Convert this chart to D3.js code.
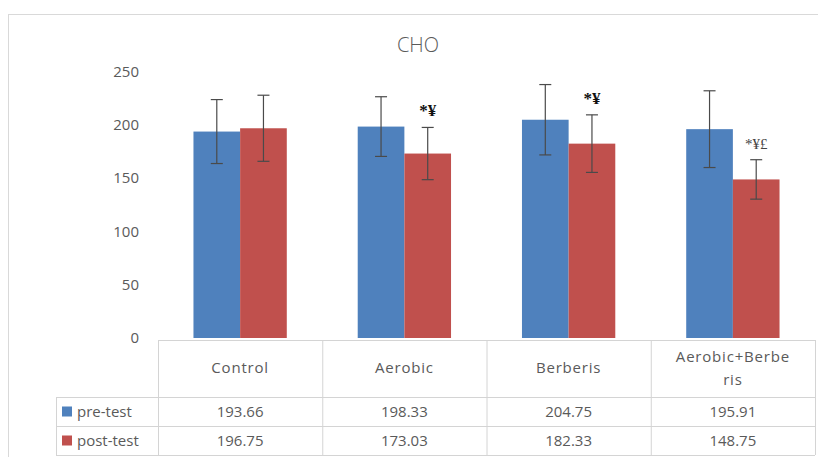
<!DOCTYPE html>
<html>
<head>
<meta charset="utf-8">
<script src="https://cdn.jsdelivr.net/npm/d3@7"></script>
<style>
  body { margin: 0; background: #fff; }
  svg { display: block; font-family: 'Open Sans', sans-serif; }
</style>
</head>
<body>
<svg id="chart" width="818" height="457"></svg>
<script>
// data
const categories = ['Control', 'Aerobic', 'Berberis', 'Aerobic+Berberis'];
const headerLines = [['Control'], ['Aerobic'], ['Berberis'], ['Aerobic+Berbe', 'ris']];
const series = ['pre-test', 'post-test'];
const preTest = [193.66, 198.33, 204.75, 195.91];
const postTest = [196.75, 173.03, 182.33, 148.75];
const preSD = [30, 28, 33, 36];
const postSD = [31, 24.5, 27, 18.5];
const marks = ['', '*¥', '*¥', '*¥£'];
const yTicks = [0, 50, 100, 150, 200, 250];

const colors = { 'pre-test': '#4f81bd', 'post-test': '#c0504d' };
const gridColor = '#d4d4d4';
const textColor = '#5a5a5a';

const svg = d3.select('#chart');

// outer chart border
svg.append('rect')
  .attr('x', 8.5).attr('y', 14.5)
  .attr('width', 830).attr('height', 470)
  .attr('fill', 'none')
  .attr('stroke', '#d9d9d9');

svg.append('text')
  .attr('x', 418).attr('y', 52)
  .attr('text-anchor', 'middle')
  .attr('font-size', 20)
  .attr('font-weight', 300)
  .attr('fill', textColor)
  .text('CHO');

const x0 = d3.scaleBand().domain(categories).range([158, 815]);
const x1 = d3.scaleBand().domain(series).range([0, x0.bandwidth()]).paddingOuter(0.76);
const y = d3.scaleLinear().domain([0, 250]).range([338, 71.5]);

// y tick labels (no axis line in the original)
const yAxis = svg.append('g')
  .attr('transform', 'translate(139,0)')
  .call(d3.axisLeft(y).tickValues(yTicks).tickSize(0).tickPadding(0));
yAxis.select('.domain').remove();
yAxis.selectAll('text')
  .attr('font-size', 15)
  .attr('font-family', "'Open Sans', sans-serif")
  .attr('fill', textColor);

const rows = categories.map((c, i) => ({
  cat: c,
  vals: [
    { s: 'pre-test', v: preTest[i], sd: preSD[i] },
    { s: 'post-test', v: postTest[i], sd: postSD[i] }
  ]
}));

const groups = svg.append('g').selectAll('g')
  .data(rows)
  .join('g')
  .attr('transform', d => `translate(${x0(d.cat)},0)`);

groups.selectAll('rect')
  .data(d => d.vals)
  .join('rect')
  .attr('x', d => x1(d.s))
  .attr('y', d => y(d.v))
  .attr('width', x1.bandwidth())
  .attr('height', d => y(0) - y(d.v))
  .attr('fill', d => colors[d.s]);

// error bars
const eb = groups.selectAll('g.err')
  .data(d => d.vals)
  .join('g')
  .attr('class', 'err')
  .attr('stroke', '#4a4a4a')
  .attr('stroke-width', 1.2);
const cx = d => x1(d.s) + x1.bandwidth() / 2;
eb.append('line')
  .attr('x1', cx).attr('x2', cx)
  .attr('y1', d => y(d.v + d.sd)).attr('y2', d => y(d.v - d.sd));
eb.append('line')
  .attr('x1', d => cx(d) - 6).attr('x2', d => cx(d) + 6)
  .attr('y1', d => y(d.v + d.sd)).attr('y2', d => y(d.v + d.sd));
eb.append('line')
  .attr('x1', d => cx(d) - 6).attr('x2', d => cx(d) + 6)
  .attr('y1', d => y(d.v - d.sd)).attr('y2', d => y(d.v - d.sd));

// significance marks over post-test bars
svg.append('g').selectAll('text')
  .data(categories)
  .join('text')
  .attr('x', (c, i) => x0(c) + x1('post-test') + x1.bandwidth() / 2)
  .attr('y', (c, i) => y(postTest[i] + postSD[i]) - 11)
  .attr('text-anchor', 'middle')
  .attr('font-size', (c, i) => i === 3 ? 15 : 17)
  .attr('font-weight', (c, i) => i === 3 ? 'normal' : 'bold')
  .attr('font-family', "'Liberation Serif', serif")
  .attr('fill', (c, i) => i === 3 ? '#444' : '#111')
  .text((c, i) => marks[i]);

// data table
const table = svg.append('g')
  .attr('stroke', gridColor)
  .attr('stroke-width', 1);
const rowY = [340, 397, 426, 455];
table.append('line').attr('x1', 158).attr('x2', 815).attr('y1', rowY[0] + 0.5).attr('y2', rowY[0] + 0.5);
rowY.slice(1).forEach(ry => {
  table.append('line').attr('x1', 56).attr('x2', 815).attr('y1', ry + 0.5).attr('y2', ry + 0.5);
});
x0.domain().forEach(c => {
  table.append('line').attr('x1', x0(c) + 0.5).attr('x2', x0(c) + 0.5)
    .attr('y1', rowY[0]).attr('y2', rowY[3]);
});
table.append('line').attr('x1', 815.5).attr('x2', 815.5).attr('y1', rowY[0]).attr('y2', rowY[3]);
table.append('line').attr('x1', 56.5).attr('x2', 56.5).attr('y1', rowY[1]).attr('y2', rowY[3]);

const tText = svg.append('g')
  .attr('font-size', 15)
  .attr('fill', textColor);

// header
categories.forEach((c, i) => {
  const lines = headerLines[i];
  const cxh = x0(c) + x0.bandwidth() / 2;
  const top = lines.length === 1 ? 373 : 362;
  lines.forEach((l, j) => {
    tText.append('text')
      .attr('x', cxh).attr('y', top + j * 23)
      .attr('text-anchor', 'middle')
      .attr('letter-spacing', 0.8)
      .text(l);
  });
});

// value rows
[preTest, postTest].forEach((vals, r) => {
  const base = (rowY[r + 1] + rowY[r + 2]) / 2 + 5;
  svg.append('rect')
    .attr('x', 62).attr('y', base - 10)
    .attr('width', 10).attr('height', 10)
    .attr('fill', colors[series[r]]);
  tText.append('text')
    .attr('x', 77).attr('y', base)
    .text(series[r]);
  categories.forEach((c, i) => {
    tText.append('text')
      .attr('x', x0(c) + x0.bandwidth() / 2).attr('y', base)
      .attr('text-anchor', 'middle')
      .text(vals[i].toFixed(2));
  });
});
</script>
</body>
</html>
